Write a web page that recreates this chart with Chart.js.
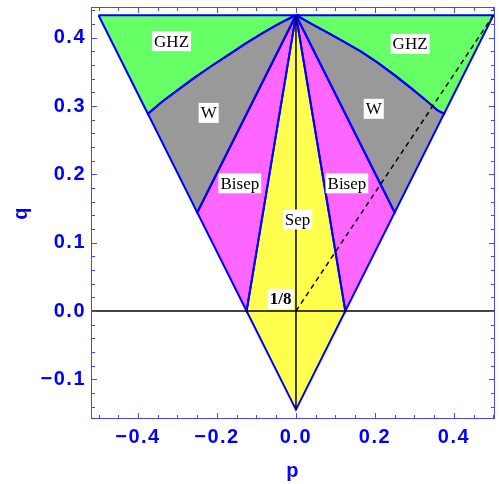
<!DOCTYPE html>
<html>
<head>
<meta charset="utf-8">
<script src="https://cdn.jsdelivr.net/npm/chart.js@4.4.0/dist/chart.umd.min.js"></script>
<style>
  html, body { margin: 0; padding: 0; background: #fff; }
</style>
</head>
<body>
<canvas id="phaseChart" width="499" height="484"></canvas>
<script>
// axis ticks
const xTicks = [-0.5, -0.45, -0.4, -0.35, -0.3, -0.25, -0.2, -0.15, -0.1, -0.05, 0,
                0.05, 0.1, 0.15, 0.2, 0.25, 0.3, 0.35, 0.4, 0.45, 0.5];
const xLabeled = [-0.4, -0.2, 0, 0.2, 0.4];
const yTicks = [-0.14, -0.12, -0.1, -0.08, -0.06, -0.04, -0.02, 0, 0.02, 0.04, 0.06, 0.08,
                0.1, 0.12, 0.14, 0.16, 0.18, 0.2, 0.22, 0.24, 0.26, 0.28, 0.3, 0.32, 0.34,
                0.36, 0.38, 0.4, 0.42, 0.44];
const yLabeled = [-0.1, 0, 0.1, 0.2, 0.3, 0.4];
const pMin = -0.519, pMax = 0.504;
const qMin = -0.158, qMax = 0.445;

// curved GHZ / W boundaries (apex -> outer edge)
const arcLeftP = [0, -0.011, -0.045, -0.087, -0.129, -0.171, -0.213, -0.256, -0.298, -0.340, -0.375];
const arcLeftQ = [0.433, 0.430, 0.420, 0.406, 0.391, 0.375, 0.359, 0.342, 0.324, 0.306, 0.2887];
const arcRightP = [0, 0.037, 0.079, 0.122, 0.164, 0.206, 0.248, 0.290, 0.332, 0.358, 0.375];
const arcRightQ = [0.433, 0.421, 0.408, 0.394, 0.380, 0.364, 0.346, 0.327, 0.307, 0.294, 0.2887];

// straight-edged regions
const bisepLeftP = [0, -0.25, -0.125, 0];
const bisepLeftQ = [0.433, 0.1443, 0, 0.433];
const sepP = [0, -0.125, 0, 0.125, 0];
const sepQ = [0.433, 0, -0.1443, 0, 0.433];
const bisepRightP = [0, 0.125, 0.25, 0];
const bisepRightQ = [0.433, 0, 0.1443, 0.433];

// black reference lines
const vertP = [0, 0];
const vertQ = [-0.1443, 0.433];
const dashP = [0, 0.5];
const dashQ = [0, 0.433];

// region labels
const labelTexts = ['GHZ', 'W', 'Bisep', 'Sep', 'Bisep', 'W', 'GHZ', '1/8'];
const labelP = [-0.315, -0.221, -0.142, 0.004, 0.129, 0.197, 0.289, -0.039];
const labelQ = [0.395, 0.290, 0.187, 0.134, 0.187, 0.296, 0.391, 0.018];

function pts(ps, qs) {
  return ps.map((p, i) => ({ x: p, y: qs[i] }));
}

const ghzLeft = pts([-0.5].concat(arcLeftP, [-0.5]), [0.433].concat(arcLeftQ, [0.433]));
const wLeft = pts(arcLeftP.concat([-0.25, 0]), arcLeftQ.concat([0.1443, 0.433]));
const wRight = pts(arcRightP.concat([0.25, 0]), arcRightQ.concat([0.1443, 0.433]));
const ghzRight = pts(arcRightP.concat([0.5, 0]), arcRightQ.concat([0.433, 0.433]));

const BLUE = '#0000ff';
const FRAME = 'rgb(70,70,255)';
const tickFont = { family: '"Liberation Sans", Arial, sans-serif', size: 20, weight: 'bold' };

function region(data, color) {
  return {
    data: data, showLine: true, regionFill: color,
    borderColor: BLUE, borderWidth: 2, pointRadius: 0, order: 2
  };
}

const fillPlugin = {
  id: 'regionFill',
  beforeDraw(chart) {
    chart.ctx.letterSpacing = '1.5px';
  },
  beforeDatasetsDraw(chart) {
    const ctx = chart.ctx, a = chart.chartArea;
    ctx.save();
    ctx.beginPath();
    ctx.rect(a.left, a.top, a.right - a.left, a.bottom - a.top);
    ctx.clip();
    chart.data.datasets.forEach((ds, i) => {
      if (!ds.regionFill) return;
      const meta = chart.getDatasetMeta(i);
      ctx.beginPath();
      meta.data.forEach((pt, j) => j ? ctx.lineTo(pt.x, pt.y) : ctx.moveTo(pt.x, pt.y));
      ctx.closePath();
      ctx.fillStyle = ds.regionFill;
      ctx.fill();
    });
    ctx.restore();
  },
  afterDatasetsDraw(chart) {
    const ctx = chart.ctx;
    const xs = chart.scales.x, ys = chart.scales.y;
    ctx.save();
    ctx.letterSpacing = '0px';
    ctx.textAlign = 'center';
    ctx.textBaseline = 'middle';
    labelTexts.forEach((t, i) => {
      const bold = t === '1/8';
      ctx.font = (bold ? 'bold ' : '') + '17px "Liberation Serif", serif';
      const w = ctx.measureText(t).width + 4;
      const h = 20;
      const x = xs.getPixelForValue(labelP[i]);
      const y = ys.getPixelForValue(labelQ[i]);
      ctx.fillStyle = '#fff';
      ctx.fillRect(x - w / 2, y - h / 2, w, h);
      ctx.fillStyle = '#000';
      ctx.fillText(t, x, y + 1);
    });
    ctx.restore();
  },
  afterDraw(chart) {
    const ctx = chart.ctx, a = chart.chartArea;
    const xs = chart.scales.x, ys = chart.scales.y;
    ctx.save();
    ctx.strokeStyle = FRAME;
    ctx.lineWidth = 1;
    ctx.strokeRect(a.left + 0.5, a.top + 0.5, a.right - a.left - 1, a.bottom - a.top - 1);
    ctx.beginPath();
    xs.ticks.forEach(t => {
      const x = Math.round(xs.getPixelForValue(t.value)) + 0.5;
      const len = xLabeled.includes(t.value) ? 6 : 4;
      ctx.moveTo(x, a.bottom); ctx.lineTo(x, a.bottom - len);
      ctx.moveTo(x, a.top); ctx.lineTo(x, a.top + len);
    });
    ys.ticks.forEach(t => {
      const y = Math.round(ys.getPixelForValue(t.value)) + 0.5;
      const len = yLabeled.includes(t.value) ? 6 : 4;
      ctx.moveTo(a.left, y); ctx.lineTo(a.left + len, y);
      ctx.moveTo(a.right, y); ctx.lineTo(a.right - len, y);
    });
    ctx.stroke();
    ctx.restore();
  }
};

function fmt(v) {
  return v.toFixed(1).replace('-', '\u2212');
}

new Chart(document.getElementById('phaseChart'), {
  type: 'scatter',
  data: {
    datasets: [
      { data: pts([pMin, pMax], [0, 0]), showLine: true, borderColor: '#000', borderWidth: 1.5, pointRadius: 0, order: 0 },
      { data: pts(vertP, vertQ), showLine: true, borderColor: '#000', borderWidth: 1.5, pointRadius: 0, order: 0 },
      { data: pts(dashP, dashQ), showLine: true, borderColor: '#000', borderWidth: 1.5, borderDash: [5, 4], pointRadius: 0, order: 0 },
      region(ghzLeft, 'rgb(102,255,102)'),
      region(wLeft, 'rgb(153,153,153)'),
      region(pts(bisepLeftP, bisepLeftQ), 'rgb(255,102,255)'),
      region(pts(sepP, sepQ), 'rgb(255,255,77)'),
      region(pts(bisepRightP, bisepRightQ), 'rgb(255,102,255)'),
      region(wRight, 'rgb(153,153,153)'),
      region(ghzRight, 'rgb(102,255,102)')
    ]
  },
  options: {
    responsive: false,
    animation: false,
    layout: { padding: { top: 7, right: 4, left: 0, bottom: 0 } },
    plugins: { legend: { display: false }, tooltip: { enabled: false } },
    scales: {
      x: {
        type: 'linear', min: pMin, max: pMax,
        afterBuildTicks: s => { s.ticks = xTicks.map(v => ({ value: v })); },
        afterFit: s => { s.height = 65; s.paddingLeft = 0; s.paddingRight = 0; },
        grid: { display: false, drawTicks: false },
        border: { display: false },
        ticks: {
          autoSkip: false, maxRotation: 0, padding: 6, color: BLUE, font: tickFont,
          callback: v => xLabeled.includes(v) ? fmt(v) : ''
        },
        title: {
          display: true, text: 'p', color: BLUE, padding: { top: 0, bottom: 1 }, font: tickFont
        }
      },
      y: {
        type: 'linear', min: qMin, max: qMax,
        afterBuildTicks: s => { s.ticks = yTicks.map(v => ({ value: v })); },
        afterFit: s => { s.width = 91; s.paddingTop = 0; s.paddingBottom = 0; },
        grid: { display: false, drawTicks: false },
        border: { display: false },
        ticks: {
          autoSkip: false, padding: 5, color: BLUE, font: tickFont,
          callback: v => yLabeled.includes(v) ? fmt(v) : ''
        },
        title: {
          display: true, text: 'q', color: BLUE, padding: { top: 9, bottom: 0 }, font: tickFont
        }
      }
    }
  },
  plugins: [fillPlugin]
});
</script>
</body>
</html>
